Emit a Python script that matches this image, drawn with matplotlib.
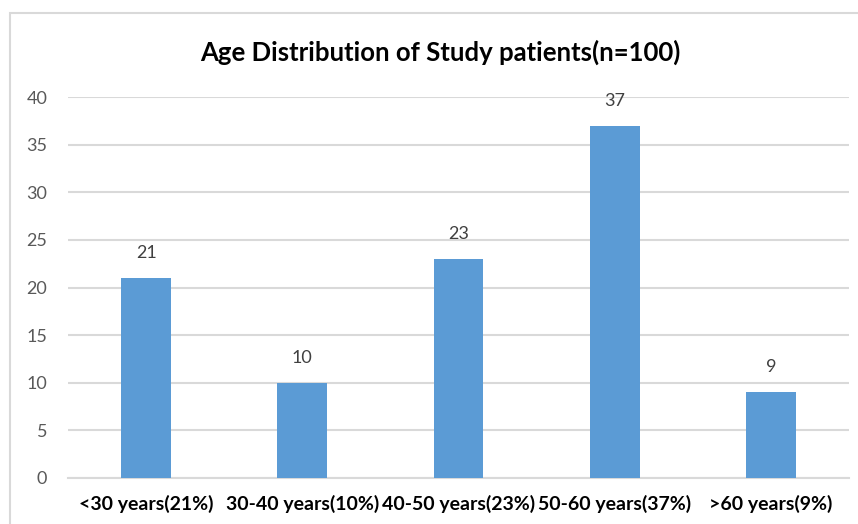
import matplotlib
matplotlib.use("Agg")
import matplotlib.pyplot as plt
from matplotlib.patches import Rectangle

categories = ["<30 years(21%)", "30-40 years(10%)", "40-50 years(23%)", "50-60 years(37%)", ">60 years(9%)"]
values = [21, 10, 23, 37, 9]
yticks = [0, 5, 10, 15, 20, 25, 30, 35, 40]
title = "Age Distribution of Study patients(n=100)"

plt.rcParams['font.family'] = ['Lato', 'DejaVu Sans']

W, H = 858, 524
fig = plt.figure(figsize=(W / 100, H / 100), dpi=100)
fig.patch.set_facecolor("white")

# outer chart border
fig.patches.append(Rectangle((10 / W, -0.1), 1.2, 1 - 13 / H + 0.1, transform=fig.transFigure,
                             fill=False, edgecolor="#D9D9D9", linewidth=1.5))

ax = fig.add_axes([68 / W, 1 - 478 / H, (849 - 68) / W, (478 - 97) / H])
x = list(range(len(categories)))
bars = ax.bar(x, values, width=0.32, color="#5B9BD5", zorder=3)
ax.set_xlim(-0.5, len(categories) - 0.5)
ax.set_ylim(0, 40)
ax.set_yticks(yticks)
ax.set_yticklabels([str(t) for t in yticks], fontsize=13, color="#595959")
ax.set_xticks(x)
ax.set_xticklabels(categories, fontsize=14, fontweight="bold", color="black")
ax.tick_params(axis="both", length=0)
ax.tick_params(axis="y", pad=15)
ax.tick_params(axis="x", pad=12)
ax.grid(axis="y", color="#D9D9D9", linewidth=1.5, zorder=0)
for s in ["top", "right", "left"]:
    ax.spines[s].set_visible(False)
ax.spines["bottom"].set_color("#D9D9D9")
ax.spines["bottom"].set_linewidth(1.5)

for xi, v in zip(x, values):
    ax.annotate(str(v), (xi, v), xytext=(0, 18), textcoords="offset points",
                ha="center", va="center", fontsize=13, color="#404040")

fig.text(440 / W, 1 - 52 / H, title, ha="center", va="center", fontsize=18.5, fontweight="bold", color="black")

fig.savefig("out.png", dpi=100)
